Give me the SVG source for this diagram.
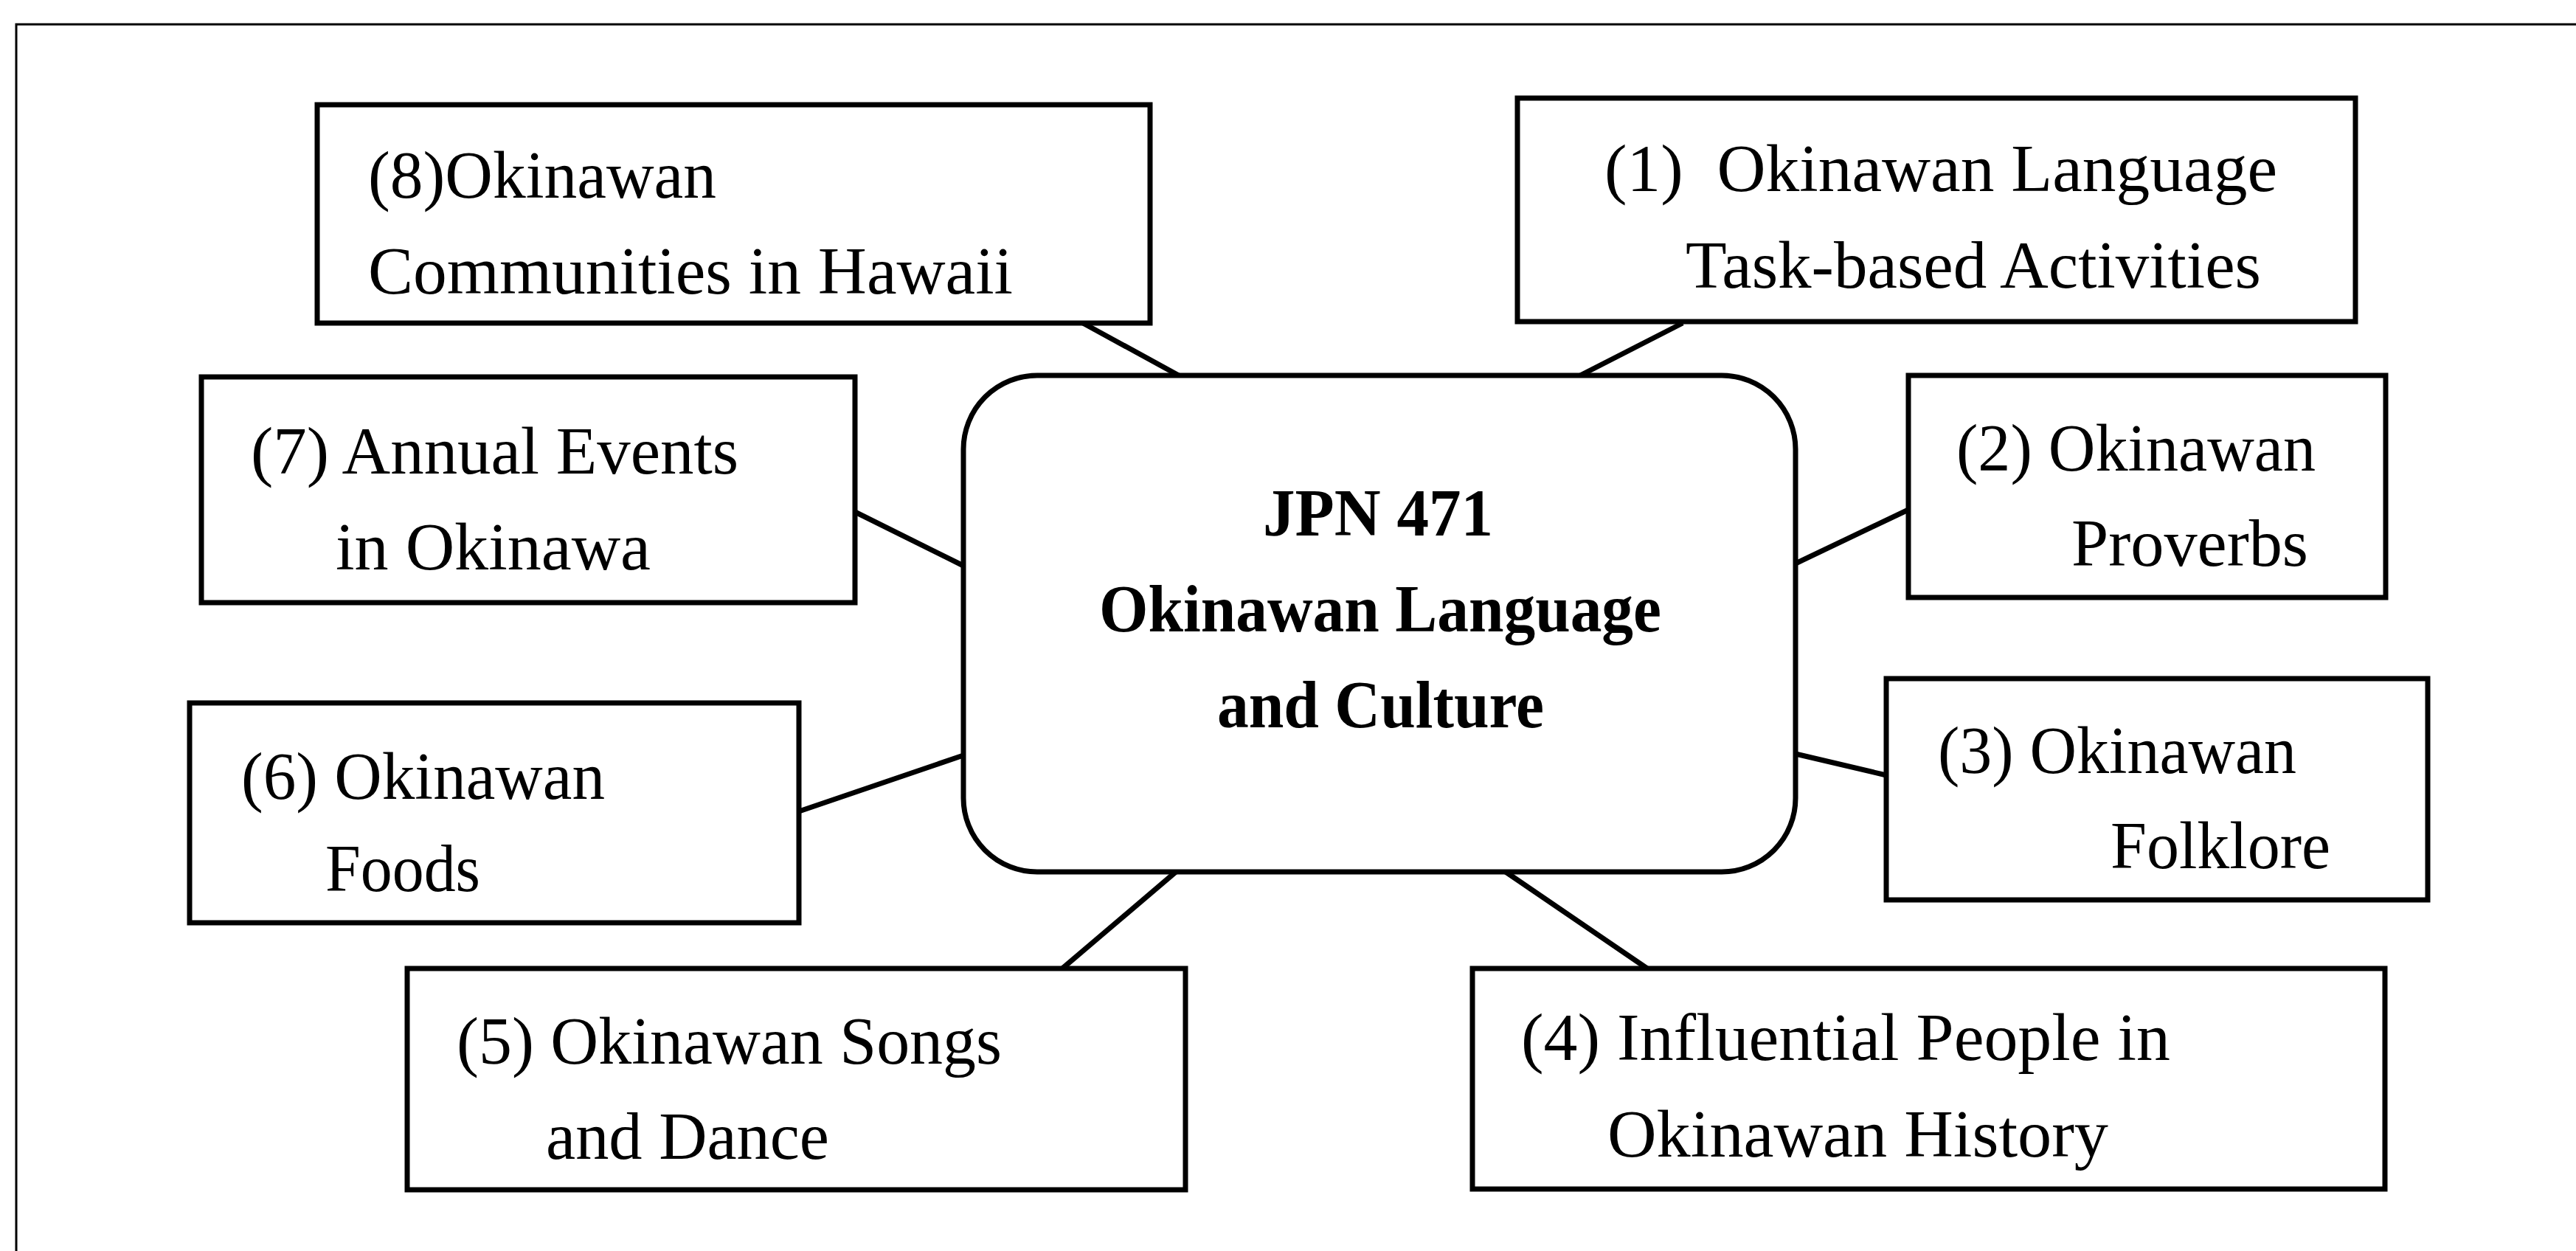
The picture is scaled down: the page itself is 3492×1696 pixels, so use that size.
<svg xmlns="http://www.w3.org/2000/svg" width="3492" height="1696" viewBox="0 0 3492 1696">
<style>
.box{fill:#fff;stroke:#000;stroke-width:7}
.frame{fill:none;stroke:#000;stroke-width:3}
.conn line{stroke:#000;stroke-width:7}
text{font-family:"Liberation Serif","Times New Roman",serif;font-size:90px;fill:#000;white-space:pre}
.b{font-weight:bold}
</style>
<rect width="3492" height="1696" fill="#fff"/>
<path class="frame" d="M22,1696 V33 H3492"/>
<g id="connectors" class="conn">
<line x1="1468" y1="438" x2="1598" y2="509"/>
<line x1="1159" y1="694" x2="1306" y2="767"/>
<line x1="2281" y1="438" x2="2142" y2="509"/>
<line x1="2587" y1="691" x2="2434" y2="764"/>
<line x1="1083" y1="1100" x2="1306" y2="1024"/>
<line x1="1440" y1="1313" x2="1594" y2="1182"/>
<line x1="2434" y1="1022" x2="2557" y2="1051"/>
<line x1="2041" y1="1182" x2="2233" y2="1313"/>
</g>
<g id="center">
<rect class="box" x="1306" y="509" width="1128" height="673" rx="100" ry="100"/>
<text class="b" x="1712" y="726" textLength="312" lengthAdjust="spacingAndGlyphs">JPN 471</text>
<text class="b" x="1490" y="856" textLength="762" lengthAdjust="spacingAndGlyphs">Okinawan Language</text>
<text class="b" x="1650" y="986" textLength="443" lengthAdjust="spacingAndGlyphs">and Culture</text>
</g>
<g id="n1">
<rect class="box" x="2057" y="133" width="1136" height="303"/>
<text x="2175" y="259" textLength="912" lengthAdjust="spacingAndGlyphs">(1)  Okinawan Language</text>
<text x="2285" y="390" textLength="780" lengthAdjust="spacingAndGlyphs">Task-based Activities</text>
</g>
<g id="n2">
<rect class="box" x="2587" y="509" width="647" height="301"/>
<text x="2652" y="638" textLength="487" lengthAdjust="spacingAndGlyphs">(2) Okinawan</text>
<text x="2808" y="767" textLength="321" lengthAdjust="spacingAndGlyphs">Proverbs</text>
</g>
<g id="n3">
<rect class="box" x="2557" y="920" width="734" height="300"/>
<text x="2627" y="1048" textLength="486" lengthAdjust="spacingAndGlyphs">(3) Okinawan</text>
<text x="2861" y="1177" textLength="298" lengthAdjust="spacingAndGlyphs">Folklore</text>
</g>
<g id="n4">
<rect class="box" x="1996" y="1313" width="1237" height="299"/>
<text x="2062" y="1437" textLength="880" lengthAdjust="spacingAndGlyphs">(4) Influential People in</text>
<text x="2179" y="1568" textLength="679" lengthAdjust="spacingAndGlyphs">Okinawan History</text>
</g>
<g id="n5">
<rect class="box" x="552" y="1313" width="1055" height="300"/>
<text x="619" y="1442" textLength="739" lengthAdjust="spacingAndGlyphs">(5) Okinawan Songs</text>
<text x="740" y="1571" textLength="384" lengthAdjust="spacingAndGlyphs">and Dance</text>
</g>
<g id="n6">
<rect class="box" x="257" y="953" width="826" height="298"/>
<text x="327" y="1083" textLength="493" lengthAdjust="spacingAndGlyphs">(6) Okinawan</text>
<text x="441" y="1208" textLength="210" lengthAdjust="spacingAndGlyphs">Foods</text>
</g>
<g id="n7">
<rect class="box" x="273" y="511" width="886" height="306"/>
<text x="340" y="642" textLength="661" lengthAdjust="spacingAndGlyphs">(7) Annual Events</text>
<text x="455" y="772" textLength="427" lengthAdjust="spacingAndGlyphs">in Okinawa</text>
</g>
<g id="n8">
<rect class="box" x="430" y="142" width="1129" height="296"/>
<text x="499" y="268" textLength="472" lengthAdjust="spacingAndGlyphs">(8)Okinawan</text>
<text x="499" y="398" textLength="874" lengthAdjust="spacingAndGlyphs">Communities in Hawaii</text>
</g>
</svg>
